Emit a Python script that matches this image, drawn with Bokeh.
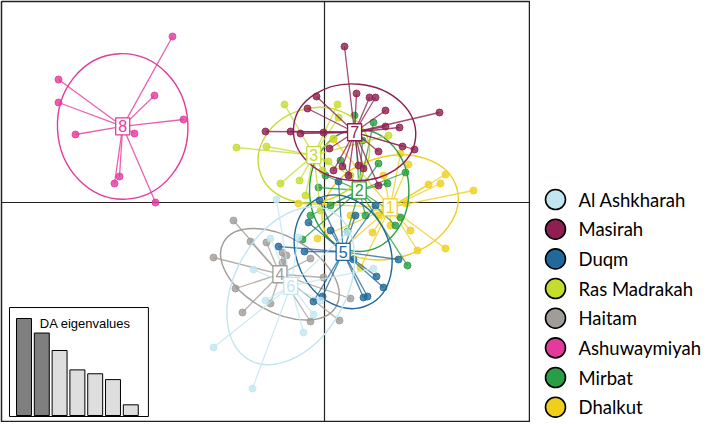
import numpy as np
from bokeh.plotting import figure
from bokeh.models import Range1d, Span
from bokeh.layouts import row
from bokeh.embed import file_html
from bokeh.resources import INLINE
from bokeh.core.properties import value

# ---- data (discriminant functions LD1 / LD2) ----
group_ids = ["1", "2", "3", "4", "5", "6", "7", "8"]
group_names = ["Dhalkut", "Mirbat", "Ras Madrakah", "Haitam", "Duqm",
               "Al Ashkharah", "Masirah", "Ashuwaymiyah"]
group_colors = ["#f0cf1c", "#2a9d45", "#c6dc2e", "#a09c98", "#20699a",
                "#c2e6f0", "#8e1f50", "#e33a9b"]

ld1_dhalkut = [1.52, 1.68, 2.42, 2.08, 2.32, 2.98, 1.64, 1.72, 1.86, 2.42, 1.32, 0.96, 0.72, -0.52, -0.14, 0.18, 1.18, 1.08, 0.32, 0.52]
ld2_dhalkut = [0.98, 0.76, 0.56, 0.36, 0.38, 0.24, -0.02, -0.56, -0.96, -0.92, -0.46, -0.60, -1.30, -0.02, -0.72, 1.26, 0.54, -0.26, -0.96, -0.26]

ld1_mirbat = [0.98, 0.60, 1.08, 1.62, -0.12, 1.26, 1.52, 1.66, -0.44, 0.46, 0.12, 0.82, 0.32, 1.42, -0.28, 0.02, 0.76]
ld2_mirbat = [1.60, 1.74, 0.78, 0.60, 0.30, 0.38, -0.30, -1.26, -0.74, -0.58, -0.06, -0.26, 0.84, -0.46, -0.26, 0.54, 1.24]

ld1_rasmadrakah = [-0.80, 0.26, -1.76, -1.16, -0.88, -0.50, 0.08, 1.28, 0.18, 0.28, -0.04, -0.38, -0.08, 0.52]
ld2_rasmadrakah = [1.96, 1.96, 1.10, 1.12, 0.38, 0.44, 0.82, 1.34, 1.28, 1.70, 0.64, 0.14, -0.16, 0.54]

ld1_haitam = [-1.82, -1.48, -1.16, -2.22, -0.76, -0.28, -1.78, -1.64, -1.08, -0.28, 0.30, 0.52, -0.02, -0.84, -0.84]
ld2_haitam = [-0.36, -0.78, -0.80, -1.10, -1.06, -1.12, -1.72, -2.20, -2.02, -2.38, -2.36, -1.92, -1.50, -1.00, -1.20]

ld1_duqm = [-0.92, -0.40, 1.48, 1.04, 1.18, 0.78, 0.86, -0.22, -0.04, 0.58, -0.32, -0.10, 0.28, 1.02, 0.12, 0.62]
ld2_duqm = [-0.88, -0.98, -1.14, -1.48, -1.70, -1.90, -1.88, -1.98, -1.88, -1.14, -0.40, 0.04, 0.42, -0.06, -0.56, -0.26]

ld1_alashkharah = [-0.96, -2.22, -1.44, -0.42, -0.22, 0.98, -1.42, -1.08, -0.52, 0.46, -0.08, -1.18]
ld2_alashkharah = [0.06, -2.90, -3.72, -2.60, -2.24, -1.32, -1.34, -0.72, -0.70, -0.60, -1.96, -1.96]

ld1_masirah = [0.40, -0.16, 0.64, 0.90, 1.02, -0.34, 1.22, 2.30, -1.18, -0.68, -0.48, -0.02, 1.50, 1.22, 1.56, 1.80, 1.08, 0.10, 0.36, 0.78, 1.08, 0.68, 0.48, 0.18]
ld2_masirah = [3.12, 2.12, 2.18, 2.10, 2.10, 1.88, 1.84, 1.80, 1.42, 1.42, 1.38, 1.40, 1.50, 1.52, 1.12, 1.06, 1.02, 1.08, 0.72, 0.68, 0.34, 0.74, 0.54, 0.64]

ld1_ashuwaymiyah = [-3.04, -5.32, -5.32, -3.40, -2.82, -4.98, -3.80, -4.10, -4.20, -3.38]
ld2_ashuwaymiyah = [3.32, 2.46, 2.00, 2.14, 1.66, 1.36, 1.38, 0.52, 0.38, 0.00]

ld1_all = [ld1_dhalkut, ld1_mirbat, ld1_rasmadrakah, ld1_haitam, ld1_duqm, ld1_alashkharah, ld1_masirah, ld1_ashuwaymiyah]
ld2_all = [ld2_dhalkut, ld2_mirbat, ld2_rasmadrakah, ld2_haitam, ld2_duqm, ld2_alashkharah, ld2_masirah, ld2_ashuwaymiyah]

legend_order = ["Al Ashkharah", "Masirah", "Duqm", "Ras Madrakah", "Haitam",
                "Ashuwaymiyah", "Mirbat", "Dhalkut"]

da_eigenvalues = [1.00, 0.85, 0.67, 0.47, 0.43, 0.37, 0.11]
n_retained = 2

# ---- main scatter ----
p = figure(width=530, height=422, x_range=Range1d(-6.46, 4.10), y_range=Range1d(-4.38, 4.02),
           x_axis_type=None, y_axis_type=None, toolbar_location=None,
           output_backend="svg", min_border=1)
p.outline_line_color = "#222222"
p.outline_line_width = 1.5
p.background_fill_color = "white"
p.border_fill_color = "white"

p.add_layout(Span(location=0, dimension="height", line_color="#222222", line_width=1.2, level="underlay"))
p.add_layout(Span(location=0, dimension="width", line_color="#222222", line_width=1.2, level="underlay"))

cxs, cys = [], []
for gx, gy, col in zip(ld1_all, ld2_all, group_colors):
    x = np.array(gx)
    y = np.array(gy)
    cx, cy = x.mean(), y.mean()
    cxs.append(cx)
    cys.append(cy)
    p.segment(x0=[cx] * len(x), y0=[cy] * len(y), x1=x, y1=y,
              line_color=col, line_width=1.3, line_alpha=0.8)
    p.scatter(x, y, size=7, fill_color=col, line_color=col, fill_alpha=0.8, line_alpha=0.8)
    cov = np.cov(np.vstack([x, y]), bias=True)
    vals, vecs = np.linalg.eigh(cov)
    order = np.argsort(vals)[::-1]
    vals = vals[order]
    vecs = vecs[:, order]
    a = 1.5 * np.sqrt(vals[0])
    b = 1.5 * np.sqrt(vals[1])
    ang = np.arctan2(vecs[1, 0], vecs[0, 0])
    p.ellipse(x=[cx], y=[cy], width=[2 * a], height=[2 * b], angle=[ang],
              fill_color=None, line_color=col, line_width=1.4)

p.rect(x=cxs, y=cys, width=14, height=17, width_units="screen", height_units="screen",
       fill_color="white", line_color=group_colors, line_width=1.3)
p.text(x=cxs, y=cys, text=group_ids, text_color=group_colors, text_align="center",
       text_baseline="middle", text_font=value("Liberation Sans"), text_font_size="16px")

# ---- eigenvalue inset ----
p.extra_x_ranges = {"eig_x": Range1d(-0.264, 29.40)}
p.extra_y_ranges = {"eig_y": Range1d(-0.062, 4.268)}
eig = np.array(da_eigenvalues)
eig_rel = eig / eig.max()
bar_x = np.arange(1, len(eig) + 1)
bar_colors = ["#7f7f7f" if i < n_retained else "#dedede" for i in range(len(eig))]
p.quad(left=[0.185], right=[7.99], bottom=[-0.0103], top=[1.113], fill_color="white",
       line_color="black", line_width=1, x_range_name="eig_x", y_range_name="eig_y")
p.vbar(x=bar_x, top=eig_rel, bottom=0, width=0.84, fill_color=bar_colors, line_color="black",
       line_width=1, x_range_name="eig_x", y_range_name="eig_y")
p.text(x=[7.0], y=[0.948], text=["DA eigenvalues"], text_align="right", text_baseline="middle",
       text_font=value("Liberation Sans"), text_font_size="13px", text_color="black",
       x_range_name="eig_x", y_range_name="eig_y")

# ---- legend panel ----
name_to_color = dict(zip(group_names, group_colors))
leg = figure(width=175, height=422, x_range=Range1d(0, 175), y_range=Range1d(7.483, -6.678),
             x_axis_type=None, y_axis_type=None, toolbar_location=None,
             output_backend="svg", min_border=0)
leg.outline_line_color = None
leg_idx = list(range(len(legend_order)))
leg.scatter(x=[25] * len(leg_idx), y=leg_idx, size=20,
            fill_color=[name_to_color[n] for n in legend_order],
            line_color="black", line_width=1.6)
leg.text(x=[48] * len(leg_idx), y=leg_idx, text=legend_order, text_baseline="middle",
         text_align="left", text_font=value("Lato"), text_font_size="18.5px", text_color="black")

layout = row(p, leg)
open("out.html", "w").write(file_html(layout, INLINE))
